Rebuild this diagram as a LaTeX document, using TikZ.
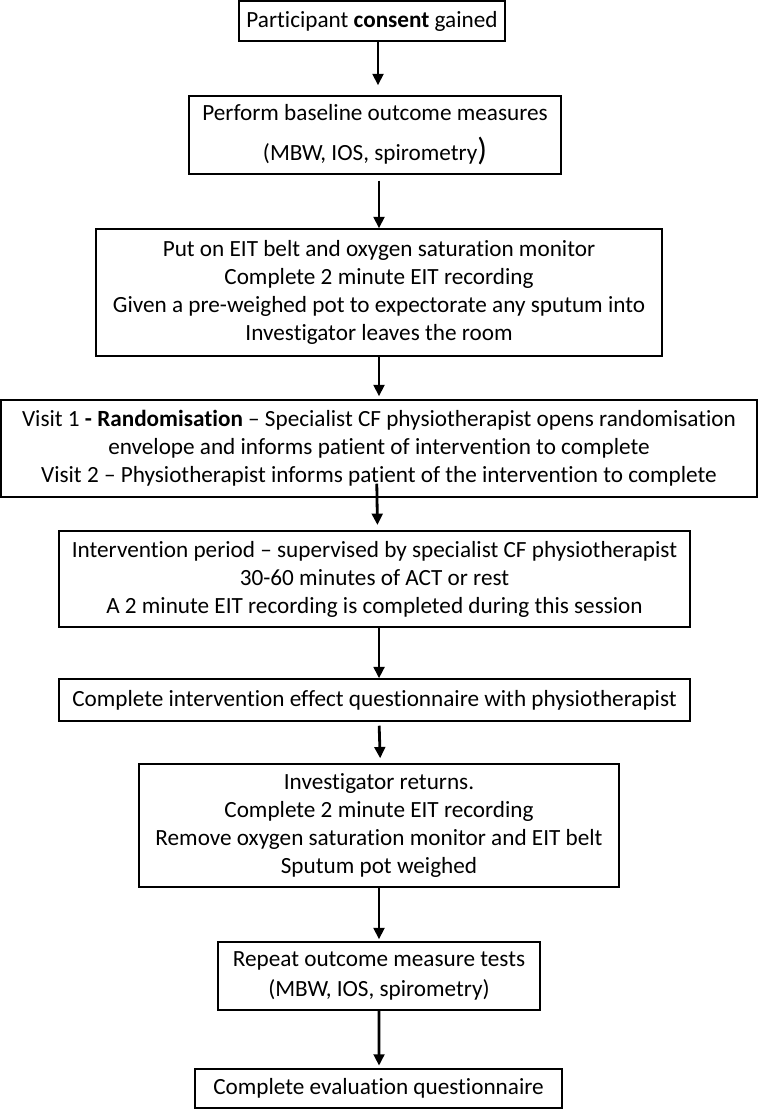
\documentclass[tikz,border=0pt]{standalone}
\usepackage{fontspec}
\setmainfont{Carlito}[Ligatures={TeX,NoCommon}]
\usetikzlibrary{arrows.meta}

\tikzset{every picture/.style={line width=0.75pt}}
\tikzset{
  stepbox/.style={draw, line width=1.1pt, inner sep=0pt, align=center,
    font=\fontsize{17.4}{21}\selectfont},
  flow/.style={line width=2.1pt, -{Triangle[width=8pt,length=8.5pt]}}
}

\begin{document}
\begin{tikzpicture}[x=0.75pt,y=0.75pt,yscale=-1,xscale=1]
\useasboundingbox (0,0) rectangle (758,1110);

%Flowchart: Process
\node [stepbox, minimum width=199.5pt, minimum height=30pt] (consent) at (372,21) {Participant \textbf{consent} gained};
%Flowchart: Process
\node [stepbox, minimum width=279pt, minimum height=58.5pt] (baseline) at (375,135) {Perform baseline outcome measures\\[9pt](MBW, IOS, spirometry{\fontsize{24}{21}\selectfont)}};
%Flowchart: Process
\node [stepbox, minimum width=424.5pt, minimum height=95.25pt] (setup) at (379,292.5) {Put on EIT belt and oxygen saturation monitor\\Complete 2 minute EIT recording\\Given a pre-weighed pot to expectorate any sputum into\\Investigator leaves the room};
%Flowchart: Process
\node [stepbox, minimum width=567pt, minimum height=72.75pt] (random) at (379,448.5) {Visit 1 \textbf{- Randomisation} – Specialist CF physiotherapist opens randomisation\\envelope and informs patient of intervention to complete\\Visit 2 – Physiotherapist informs patient of the intervention to complete};
%Flowchart: Process
\node [stepbox, minimum width=473.25pt, minimum height=72pt] (period) at (374.5,579) {Intervention period – supervised by specialist CF physiotherapist\\30-60 minutes of ACT or rest\\A 2 minute EIT recording is completed during this session};
%Flowchart: Process
\node [stepbox, minimum width=473.25pt, minimum height=31.5pt] (effect) at (374.5,700) {Complete intervention effect questionnaire with physiotherapist};
%Flowchart: Process
\node [stepbox, minimum width=360pt, minimum height=92.25pt] (returns) at (379,825.5) {Investigator returns.\\Complete 2 minute EIT recording\\Remove oxygen saturation monitor and EIT belt\\Sputum pot weighed};
%Flowchart: Process
\node [stepbox, minimum width=241.5pt, minimum height=51pt] (repeat) at (379,976) {Repeat outcome measure tests\\[2pt](MBW, IOS, spirometry)};
%Flowchart: Process
\node [stepbox, minimum width=275.25pt, minimum height=29.25pt] (evaluation) at (378.5,1088.5) {Complete evaluation questionnaire};

%Straight Lines
\draw [flow, shorten >=7.5pt] ([xshift=4.5pt]consent.south) -- ([xshift=2.25pt]baseline.north);
%Straight Lines
\draw [flow, shorten <=4.5pt] ([xshift=3pt]baseline.south) -- (setup.north);
%Straight Lines
\draw [flow, shorten >=2.25pt] (setup.south) -- (random.north);
%Straight Lines
\draw [flow, shorten <=-10.5pt, shorten >=4pt] ([xshift=-1.5pt]random.south) -- ([xshift=2.25pt]period.north);
%Straight Lines
\draw [flow] ([xshift=3.4pt]period.south) -- ([xshift=3.4pt]effect.north);
%Straight Lines
\draw [flow, shorten <=3pt, shorten >=3.75pt] ([xshift=3.4pt]effect.south) -- ([xshift=1pt]returns.north);
%Straight Lines
\draw [flow, shorten >=1.5pt] (returns.south) -- (repeat.north);
%Straight Lines
\draw [flow, shorten >=2pt] (repeat.south) -- ([xshift=0.4pt]evaluation.north);

\end{tikzpicture}
\end{document}
